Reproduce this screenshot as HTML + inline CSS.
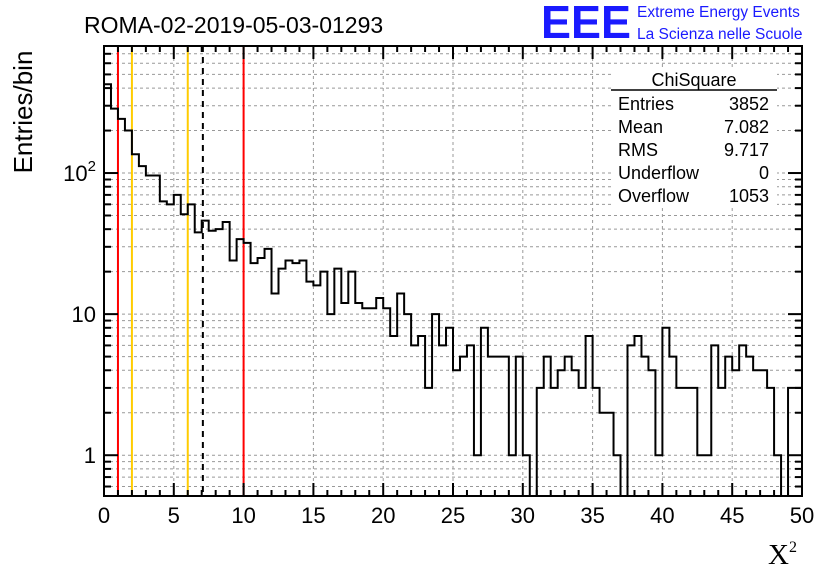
<!DOCTYPE html>
<html><head><meta charset="utf-8"><style>
body{margin:0;background:#fff;}
svg{display:block;font-family:"Liberation Sans",sans-serif;}
</style></head><body>
<svg id="c" width="836" height="572" viewBox="0 0 836 572">
<defs><clipPath id="pc"><rect x="104" y="46" width="698" height="450"/></clipPath></defs>
<text x="84" y="33" font-size="23">ROMA-02-2019-05-03-01293</text>
<text x="541" y="38" font-size="46" font-weight="bold" fill="#1a1aff" textLength="90" lengthAdjust="spacingAndGlyphs">EEE</text>
<text x="637" y="17" font-size="15.5" fill="#1a1aff">Extreme Energy Events</text>
<text x="637" y="39" font-size="15.5" fill="#1a1aff">La Scienza nelle Scuole</text>
<g id="grid"></g>
<g id="marks" clip-path="url(#pc)"></g>
<g id="axes"></g>
<text transform="translate(32,112) rotate(-90)" font-size="26" text-anchor="middle">Entries/bin</text>
<text x="768" y="564" font-size="29" font-family="Liberation Serif,serif">X<tspan font-size="16" dy="-12">2</tspan></text>
<g>
<rect x="611" y="68" width="166" height="140" fill="#fff"/>
<text x="694" y="86" font-size="18" text-anchor="middle">ChiSquare</text>
<line x1="611" y1="90" x2="777" y2="90" stroke="#000" stroke-width="1.5"/>
<g font-size="18" id="stats"></g>
</g>
</svg>
<script>
const binLow = 0, binWidth = 0.5;
const counts = [426,286,242,200,136,112,96,96,63,60,70,51,60,38,46,39,40,45,24,34,32,23,25,29,14,21,24,23,24,17,16,20,10,21,12,20,12,11,11,13,11,7,14,10,6,7,3,10,6,8,4,5,6,1,8,5,5,5,1,5,1,0,3,5,3,4,5,4,3,7,3,2,2,1,0,6,7,5,4,1,8,5,3,3,3,1,1,6,3,5,4,6,5,4,4,3,1,0,3,3];
const xTicks = [0,5,10,15,20,25,30,35,40,45,50];
const yTicks = [1,10,100];
const yTickBase = ["1","10","10"];
const yTickExp = ["","","2"];
const cutLines = [{v:1,c:"#ff0000",n:"cut-line-1"},{v:2,c:"#ffcc00",n:"cut-line-2"},{v:6,c:"#ffcc00",n:"cut-line-6"},{v:7.082,c:"#000",n:"mean-line",d:"6,5"},{v:10,c:"#ff0000",n:"cut-line-10"}];
const statLabels = ["Entries","Mean","RMS","Underflow","Overflow"];
const statValues = ["3852","7.082","9.717","0","1053"];

const NS="http://www.w3.org/2000/svg";
const X0=104,X1=802,Y0=46,Y1=496;
const xMin=0,xMax=50,yMinL=Math.log10(0.514),yMaxL=Math.log10(795);
const sx=v=>X0+(v-xMin)/(xMax-xMin)*(X1-X0);
const sy=v=>v<=0?Y1+20:Y1-(Math.log10(v)-yMinL)/(yMaxL-yMinL)*(Y1-Y0);
function mk(t,a,p){const e=document.createElementNS(NS,t);for(const k in a)e.setAttribute(k,a[k]);p.appendChild(e);return e;}
const grid=document.getElementById('grid'),marks=document.getElementById('marks'),axes=document.getElementById('axes');
for(const t of xTicks){if(t===xMin||t===xMax)continue;
const g=mk('line',{x1:sx(t),x2:sx(t),y1:Y0,y2:Y1,stroke:'#999','stroke-dasharray':'3,3','stroke-width':1},grid);

}
for(let d=-1;d<=2;d++)for(let m=1;m<=9;m++){const v=m*Math.pow(10,d);const y=sy(v);if(y<Y0||y>Y1)continue;
const g=mk('line',{x1:X0,x2:X1,y1:y,y2:y,stroke:'#999','stroke-dasharray':'3,3','stroke-width':1},grid);


const tl=m===1?14:7;
mk('line',{x1:X0,x2:X0+tl,y1:y,y2:y,stroke:'#000','stroke-width':2},axes);
mk('line',{x1:X1,x2:X1-tl,y1:y,y2:y,stroke:'#000','stroke-width':2},axes);}
for(const c of cutLines){const l=mk('line',{x1:sx(c.v),x2:sx(c.v),y1:Y0,y2:Y1,stroke:c.c,'stroke-width':2},marks);
if(c.d)l.setAttribute('stroke-dasharray',c.d);

}
let d='';counts.forEach((c,i)=>{const xa=sx(binLow+i*binWidth),xb=sx(binLow+(i+1)*binWidth),y=sy(c);d+=(i===0?'M'+xa+','+y:'L'+xa+','+y)+'L'+xb+','+y;});
const h=mk('path',{d:d,fill:'none',stroke:'#000','stroke-width':2},marks);


const f=mk('rect',{x:X0,y:Y0,width:X1-X0,height:Y1-Y0,fill:'none',stroke:'#000','stroke-width':2},axes);


for(let v=xMin;v<=xMax;v+=1){const major=v%5===0,tl=major?13:6;
mk('line',{x1:sx(v),x2:sx(v),y1:Y1,y2:Y1-tl,stroke:'#000','stroke-width':2},axes);
mk('line',{x1:sx(v),x2:sx(v),y1:Y0,y2:Y0+tl,stroke:'#000','stroke-width':2},axes);}
for(const t of xTicks){const e=mk('text',{x:sx(t),y:523,'font-size':22,'text-anchor':'middle'},axes);e.textContent=t;

}
yTicks.forEach((t,i)=>{const e=mk('text',{x:96,y:sy(t)+8,'font-size':22,'text-anchor':'end'},axes);
e.appendChild(document.createTextNode(yTickBase[i]));
if(yTickExp[i]){const s=mk('tspan',{'font-size':15,dy:-10},e);s.textContent=yTickExp[i];}

});
const st=document.getElementById('stats');
statLabels.forEach((s,i)=>{const y=110+i*23;
const a=mk('text',{x:618,y:y},st);a.textContent=s;


const b=mk('text',{x:769,y:y,'text-anchor':'end'},st);b.textContent=statValues[i];

});
</script>
</body></html>
